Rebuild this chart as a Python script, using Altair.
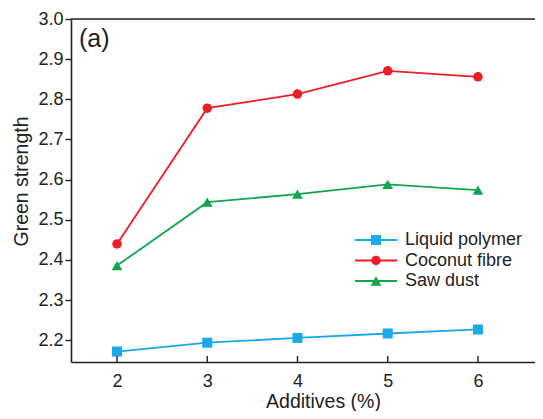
import altair as alt
import pandas as pd

additives = [2, 3, 4, 5, 6]
liquid_polymer = [2.172, 2.194, 2.206, 2.217, 2.227]
coconut_fibre = [2.440, 2.778, 2.813, 2.871, 2.856]
saw_dust = [2.386, 2.544, 2.564, 2.588, 2.574]

series_names = ["Liquid polymer", "Coconut fibre", "Saw dust"]
series_values = [liquid_polymer, coconut_fibre, saw_dust]
colors = ["#19A9E8", "#EE1C25", "#13A54E"]
shapes = ["square", "circle", "triangle-up"]
sizes = [100, 90, 115]

W, H = 464, 343
FONT = "Liberation Sans"
INK = "#222"
xscale = alt.Scale(domain=[1.49, 6.632], nice=False, zero=False)
yscale = alt.Scale(domain=[2.146, 3.0], nice=False, zero=False)

layers = []
for name, vals, col, shp, sz in zip(series_names, series_values, colors, shapes, sizes):
    df = pd.DataFrame({"x": additives, "y": vals, "s": name})
    base = alt.Chart(df)
    line = base.mark_line(color=col, strokeWidth=1.8).encode(
        x=alt.X("x:Q", scale=xscale),
        y=alt.Y("y:Q", scale=yscale),
    )
    pts = base.mark_point(color=col, filled=True, opacity=1, shape=shp, size=sz).encode(
        x=alt.X("x:Q", scale=xscale),
        y=alt.Y("y:Q", scale=yscale),
    )
    layers += [line, pts]

axis_df = pd.DataFrame({"x": additives, "y": liquid_polymer})
axes = alt.Chart(axis_df).mark_point(opacity=0).encode(
    x=alt.X("x:Q", scale=xscale, title="Additives (%)",
            axis=alt.Axis(values=additives, format="d", ticks=False, tickSize=0, grid=False,
                          labelPadding=10, titlePadding=2, titleX=252, domainColor=INK, domainWidth=1.6,
                          labelFontSize=18, titleFontSize=19.5, labelFont=FONT, titleFont=FONT,
                          labelColor=INK, titleColor=INK, titleFontWeight="normal")),
    y=alt.Y("y:Q", scale=yscale, title="Green strength",
            axis=alt.Axis(values=[2.2, 2.3, 2.4, 2.5, 2.6, 2.7, 2.8, 2.9, 3.0], format=".1f",
                          tickSize=6, tickColor=INK, tickWidth=1.4, grid=False, labelPadding=2,
                          titlePadding=6, titleY=162, domainColor=INK, domainWidth=1.6,
                          labelFontSize=18, titleFontSize=19.5, labelFont=FONT, titleFont=FONT,
                          labelColor=INK, titleColor=INK, titleFontWeight="normal")),
)

xticks = alt.Chart(pd.DataFrame({"x": additives})).mark_rule(color=INK, strokeWidth=1.4).encode(
    x=alt.X("x:Q", scale=xscale), y=alt.value(H), y2=alt.value(H - 6)
)
topline = alt.Chart(pd.DataFrame({"a": [0]})).mark_rule(color=INK, strokeWidth=1.6).encode(
    x=alt.value(0), x2=alt.value(W), y=alt.value(0)
)
panel = alt.Chart(pd.DataFrame({"t": ["(a)"]})).mark_text(
    align="left", baseline="middle", fontSize=25, font=FONT, color=INK
).encode(x=alt.value(8), y=alt.value(20), text="t:N")

leg_layers = []
leg_y = [221, 241.5, 262]
for name, col, shp, sz, ly in zip(series_names, colors, shapes, sizes, leg_y):
    d = pd.DataFrame({"t": [name]})
    leg_layers.append(alt.Chart(d).mark_rule(color=col, strokeWidth=1.8).encode(
        x=alt.value(284), x2=alt.value(326), y=alt.value(ly)))
    leg_layers.append(alt.Chart(d).mark_point(color=col, filled=True, opacity=1, shape=shp, size=sz).encode(
        x=alt.value(305), y=alt.value(ly)))
    leg_layers.append(alt.Chart(d).mark_text(align="left", baseline="middle", fontSize=18,
                                             font=FONT, color=INK).encode(
        x=alt.value(334), y=alt.value(ly), text="t:N"))

chart = alt.layer(axes, *layers, xticks, topline, panel, *leg_layers).properties(
    width=W, height=H,
    autosize=alt.AutoSizeParams(type="none"),
    padding={"left": 63, "top": 11, "right": 0, "bottom": 49},
).configure_view(stroke=None).configure(background="white")

chart.save("out.html", embed_options={"renderer": "svg", "actions": False})
